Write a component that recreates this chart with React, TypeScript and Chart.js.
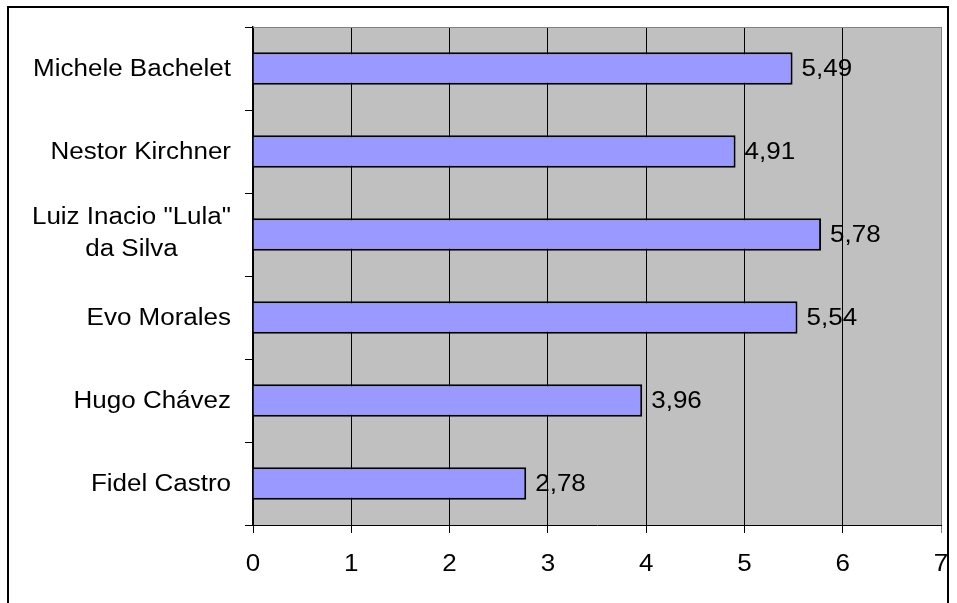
import React, { useEffect, useRef } from "react";
import { Chart, registerables } from "chart.js";

Chart.register(...registerables);

const categories: string[][] = [
  ["Michele Bachelet"],
  ["Nestor Kirchner"],
  ['Luiz Inacio "Lula"', "da Silva"],
  ["Evo Morales"],
  ["Hugo Chávez"],
  ["Fidel Castro"],
];
const values: number[] = [5.49, 4.91, 5.78, 5.54, 3.96, 2.78];
const xTickValues: number[] = [0, 1, 2, 3, 4, 5, 6, 7];

const FONT = '23px "Liberation Sans", Arial, sans-serif';
const SX = 1.13;
const DY = 1.5;

function stretchText(ctx: CanvasRenderingContext2D, text: string, x: number, y: number, align: CanvasTextAlign) {
  ctx.save();
  ctx.translate(x, y + DY);
  ctx.scale(SX, 1);
  ctx.textAlign = align;
  ctx.textBaseline = "middle";
  ctx.fillText(text, 0, 0);
  ctx.restore();
}

const excelPlugin = {
  id: "excelLook",
  beforeDraw(chart: any) {
    const { ctx, chartArea } = chart;
    ctx.save();
    ctx.fillStyle = "#C0C0C0";
    ctx.fillRect(chartArea.left, chartArea.top, chartArea.right - chartArea.left, chartArea.bottom - chartArea.top);
    ctx.restore();
  },
  beforeDatasetsDraw(chart: any) {
    const { ctx, chartArea } = chart;
    ctx.save();
    ctx.strokeStyle = "#808080";
    ctx.lineWidth = 1;
    ctx.beginPath();
    ctx.moveTo(chartArea.left, chartArea.top + 0.5);
    ctx.lineTo(chartArea.right, chartArea.top + 0.5);
    ctx.stroke();
    ctx.restore();
  },
  afterDraw(chart: any) {
    const { ctx } = chart;
    const xs = chart.scales.x;
    const ys = chart.scales.y;
    ctx.save();
    // outer chart border
    ctx.strokeStyle = "#000";
    ctx.lineWidth = 2;
    ctx.strokeRect(8, 7, 940, 700);

    ctx.font = FONT;
    ctx.fillStyle = "#000";
    // category labels
    const rightEdge = 231;
    categories.forEach((lines, i) => {
      const yc = ys.getPixelForValue(i);
      const widths = lines.map((l) => ctx.measureText(l).width * SX);
      const blockW = Math.max(...widths);
      const cx = rightEdge - blockW / 2;
      const lh = 32;
      const y0 = yc - ((lines.length - 1) * lh) / 2 - (lines.length > 1 ? 2 : 0);
      lines.forEach((l, j) => {
        if (lines.length === 1) stretchText(ctx, l, rightEdge, y0, "right");
        else stretchText(ctx, l, cx, y0 + j * lh, "center");
      });
    });
    // x tick labels
    xTickValues.forEach((v) => {
      stretchText(ctx, String(v), xs.getPixelForValue(v), 563, "center");
    });
    // value labels
    values.forEach((v, i) => {
      const txt = v.toFixed(2).replace(".", ",");
      stretchText(ctx, txt, xs.getPixelForValue(v) + 9, ys.getPixelForValue(i), "left");
    });
    ctx.restore();
  },
};

export default function App() {
  const ref = useRef<HTMLCanvasElement | null>(null);
  useEffect(() => {
    if (!ref.current) return;
    const chart = new Chart(ref.current, {
      type: "bar",
      data: {
        labels: categories,
        datasets: [
          {
            data: values,
            backgroundColor: "#9999FF",
            borderColor: "#000000",
            borderWidth: 2,
            barPercentage: 0.39,
            categoryPercentage: 1,
          },
        ],
      },
      options: {
        indexAxis: "y",
        animation: false,
        responsive: false,
        maintainAspectRatio: false,
        layout: { padding: { top: 27, right: 16, left: 0, bottom: 0 } },
        plugins: { legend: { display: false }, tooltip: { enabled: false } },
        scales: {
          x: {
            type: "linear",
            min: 0,
            max: 7,
            ticks: { stepSize: 1, display: false },
            grid: {
              color: (c: any) => (c.tick && c.tick.value === 7 ? "#808080" : "#000000"),
              lineWidth: 1,
              drawTicks: true,
              tickLength: 8,
              drawOnChartArea: true,
            },
            border: { display: true, color: "#000000", width: 1 },
            afterFit: (s: any) => {
              s.height = 78;
            },
          },
          y: {
            type: "category",
            offset: true,
            ticks: { display: false },
            grid: {
              offset: true,
              drawOnChartArea: false,
              drawTicks: true,
              tickLength: 8,
              color: "#000000",
              lineWidth: 1,
            },
            border: { display: true, color: "#000000", width: 1.5 },
            afterFit: (s: any) => {
              s.width = 253;
            },
          },
        },
      },
      plugins: [excelPlugin],
    });
    return () => chart.destroy();
  }, []);
  return (
    <div style={{ position: "absolute", left: 0, top: 0, width: 957, height: 603, background: "#fff" }}>
      <canvas ref={ref} width={957} height={603} style={{ display: "block" }} />
    </div>
  );
}
